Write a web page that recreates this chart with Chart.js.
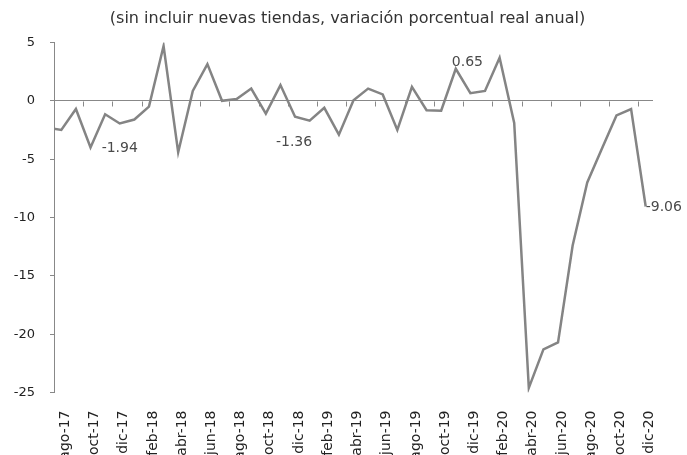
<!DOCTYPE html>
<html><head><meta charset="utf-8">
<script src="https://cdn.jsdelivr.net/npm/chart.js@4"></script>
<style>html,body{margin:0;padding:0;background:#fff;overflow:hidden}</style>
</head><body>
<canvas id="c" width="687" height="455"></canvas>
<script>
// Monthly categories (jul-17 is only used to continue the line into the left edge)
const categories = ['jul-17','ago-17','sep-17','oct-17','nov-17','dic-17',
  'ene-18','feb-18','mar-18','abr-18','may-18','jun-18','jul-18','ago-18','sep-18','oct-18','nov-18','dic-18',
  'ene-19','feb-19','mar-19','abr-19','may-19','jun-19','jul-19','ago-19','sep-19','oct-19','nov-19','dic-19',
  'ene-20','feb-20','mar-20','abr-20','may-20','jun-20','jul-20','ago-20','sep-20','oct-20','nov-20','dic-20'];
const values = [-2.3,-2.5,-0.7,-4.0,-1.15,-1.94,
  -1.6,-0.5,4.7,-4.4,0.85,3.15,0.0,0.15,1.05,-1.1,1.35,-1.36,
  -1.7,-0.6,-2.9,0.05,1.05,0.55,-2.5,1.2,-0.8,-0.85,2.75,0.65,
  0.85,3.7,-1.9,-24.6,-21.3,-20.7,-12.4,-7.0,-4.1,-1.25,-0.7,-9.06];
const tickLabels = ['ago-17','oct-17','dic-17','feb-18','abr-18','jun-18','ago-18','oct-18','dic-18',
  'feb-19','abr-19','jun-19','ago-19','oct-19','dic-19','feb-20','abr-20','jun-20','ago-20','oct-20','dic-20'];
const yTicks = [5,0,-5,-10,-15,-20,-25];
const annotatedCats = ['dic-17','dic-18','dic-19','dic-20'];
const annotatedText = ['-1.94','-1.36','0.65','-9.06'];
const titleText = '(sin incluir nuevas tiendas, variación porcentual real anual)';

const FONT = 'DejaVu Sans';
const labelPlacement = [
  {dx:0, dy:25, align:'center'},
  {dx:-1, dy:26, align:'center'},
  {dx:-3, dy:-31, align:'center'},
  {dx:0, dy:1, align:'left'}
];

const overlay = {
  id:'overlay',
  beforeDatasetsDraw(chart){
    const {ctx, scales:{x,y}} = chart;
    const y0 = Math.round(y.getPixelForValue(0)) + 0.5;
    ctx.save();
    ctx.strokeStyle = '#888'; ctx.lineWidth = 1;
    ctx.beginPath();
    for (let k = 1; k <= 39; k += 2) {
      const px = Math.round(x.getPixelForValue(k + 0.5)) + 0.5;
      ctx.moveTo(px, y0); ctx.lineTo(px, y0 + 5);
    }
    ctx.stroke();
    ctx.restore();
  },
  afterDatasetsDraw(chart){
    const {ctx, chartArea, scales:{x,y}} = chart;
    ctx.save();
    // title
    ctx.font = '16px "' + FONT + '"';
    ctx.fillStyle = '#333';
    ctx.textAlign = 'center';
    ctx.textBaseline = 'middle';
    ctx.fillText(titleText, (chartArea.left + chartArea.right) / 2 - 6, chartArea.top - 24);
    // data labels
    ctx.font = '14px "' + FONT + '"';
    ctx.fillStyle = '#4a4a4a';
    annotatedCats.forEach((cat, j) => {
      const idx = categories.indexOf(cat);
      const px = x.getPixelForValue(idx - 1);
      const py = y.getPixelForValue(values[idx]);
      const p = labelPlacement[j];
      ctx.textAlign = p.align;
      ctx.fillText(annotatedText[j], px + p.dx, py + p.dy);
    });
    ctx.restore();
  }
};

new Chart(document.getElementById('c'), {
  type:'line',
  data:{ datasets:[{
    data: categories.map((c,i) => ({x:i-1, y:values[i]})),
    borderColor:'#848484', borderWidth:2.5, pointRadius:0, tension:0, fill:false, clip:0
  }]},
  options:{
    responsive:false, animation:false, devicePixelRatio:1,
    layout:{padding:{left:0,right:34,top:42.5,bottom:0}},
    plugins:{
      legend:{display:false}, tooltip:{enabled:false}, title:{display:false}
    },
    scales:{
      x:{type:'linear', min:-0.5, max:40.5,
        grid:{display:false}, border:{display:false},
        afterBuildTicks: ax => { ax.ticks = tickLabels.map(l => ({value: categories.indexOf(l) - 1})); },
        afterFit: ax => { ax.height = 62.5; },
        ticks:{autoSkip:false, minRotation:90, maxRotation:90, padding:10, labelOffset:4, color:'#222',
          font:{family:FONT, size:14}, callback: v => categories[v + 1]}
      },
      y:{min:-25, max:5,
        afterBuildTicks: ax => { ax.ticks = yTicks.map(v => ({value:v})); },
        afterFit: ax => { ax.width = 54; },
        grid:{color: c => (c.tick && c.tick.value === 0) ? '#888' : 'rgba(0,0,0,0)',
          tickColor:'#888', tickLength:4, drawOnChartArea:true, lineWidth:1},
        border:{display:true, color:'#888', width:1},
        ticks:{padding:15, color:'#222', font:{family:FONT, size:13}}
      }
    }
  },
  plugins:[overlay]
});
</script>
</body></html>
